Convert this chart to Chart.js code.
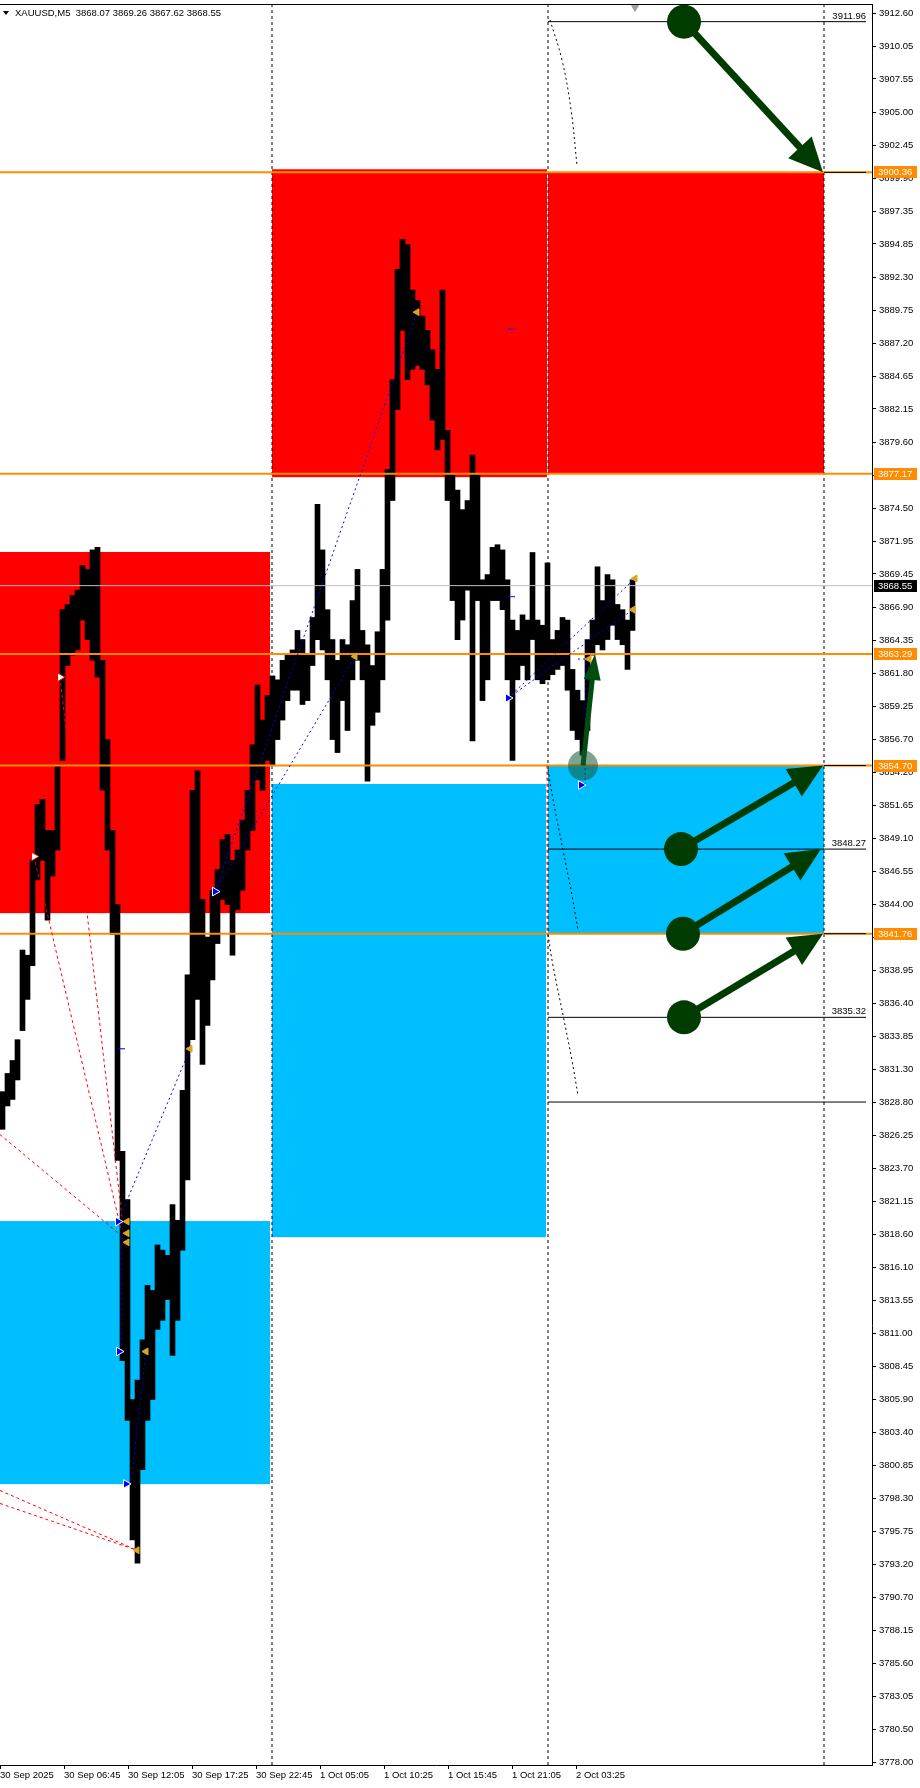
<!DOCTYPE html>
<html>
<head>
<meta charset="utf-8">
<script src="https://cdn.jsdelivr.net/npm/chart.js@4.4.1/dist/chart.umd.min.js"></script>
<style>
html, body { margin: 0; padding: 0; background: #fff; }
#wrap { width: 920px; height: 1788px; }
</style>
</head>
<body>
<div id="wrap"><canvas id="xau" width="920" height="1788"></canvas></div>
<script>
// XAUUSD M5 - price grouped in columns of 5 bars
const symbolTitle = "XAUUSD,M5  3868.07 3869.26 3867.62 3868.55";
const barStep = 5;
const barHigh = [
  3829.6, 3831.0, 3832.0, 3833.6, 3840.5, 3840.1, 3847.4, 3851.7, 3852.1, 3849.7,
  3849.7, 3854.7, 3866.7, 3867.1, 3867.8, 3868.2, 3870.1, 3869.8, 3871.3, 3871.5,
  3862.8, 3856.7, 3849.7, 3844.0, 3825.0, 3821.3, 3805.9, 3807.4, 3810.5, 3814.7,
  3814.3, 3817.8, 3817.4, 3817.0, 3820.9, 3819.7, 3829.7, 3838.6, 3852.8, 3854.3,
  3844.4, 3841.5, 3845.1, 3846.7, 3849.0, 3849.4, 3847.4, 3848.2, 3850.5, 3852.8,
  3856.3, 3860.9, 3858.2, 3860.1, 3861.6, 3861.3, 3862.8, 3863.3, 3863.6, 3865.1,
  3864.4, 3863.2, 3866.1, 3874.8, 3871.3, 3866.7, 3864.4, 3862.8, 3864.4, 3864.0,
  3867.4, 3869.8, 3865.1, 3864.0, 3862.4, 3865.0, 3869.8, 3877.5, 3884.4, 3892.9,
  3895.2, 3894.8, 3891.3, 3890.5, 3889.3, 3888.2, 3886.7, 3885.2, 3891.3, 3880.5,
  3877.1, 3875.9, 3874.4, 3875.1, 3878.6, 3877.1, 3869.0, 3869.4, 3871.5, 3871.7,
  3871.3, 3869.0, 3865.9, 3865.1, 3866.3, 3865.9, 3871.1, 3865.9, 3865.5, 3870.3,
  3864.4, 3865.1, 3866.1, 3865.9, 3862.1, 3860.5, 3859.7, 3864.4, 3865.9, 3870.0,
  3867.4, 3869.4, 3869.0, 3867.1, 3866.7, 3865.9, 3869.0
];
const barLow = [
  3826.7, 3828.5, 3829.0, 3830.5, 3834.3, 3836.7, 3839.3, 3845.9, 3847.4, 3842.8,
  3846.2, 3848.2, 3855.1, 3862.4, 3863.2, 3863.6, 3865.9, 3864.4, 3862.8, 3861.5,
  3852.8, 3848.2, 3841.7, 3824.3, 3808.9, 3804.3, 3795.1, 3793.3, 3800.5, 3804.3,
  3805.9, 3811.3, 3812.0, 3813.6, 3809.3, 3812.0, 3817.4, 3822.8, 3833.6, 3836.7,
  3831.7, 3834.7, 3838.2, 3841.0, 3844.4, 3844.0, 3840.1, 3843.6, 3845.1, 3848.2,
  3849.7, 3853.6, 3852.8, 3855.1, 3854.7, 3856.7, 3858.2, 3859.7, 3860.5, 3860.5,
  3859.4, 3859.7, 3862.4, 3864.4, 3863.6, 3861.3, 3856.7, 3855.7, 3859.7, 3857.4,
  3861.3, 3862.8, 3861.3, 3853.5, 3857.8, 3858.8, 3861.3, 3865.9, 3875.1, 3882.1,
  3888.2, 3884.4, 3885.2, 3885.5, 3885.2, 3884.0, 3881.3, 3879.0, 3879.8, 3875.1,
  3867.4, 3864.4, 3865.9, 3868.2, 3856.6, 3867.4, 3859.7, 3861.3, 3867.4, 3867.4,
  3866.7, 3861.3, 3855.1, 3861.3, 3862.4, 3861.3, 3864.4, 3861.3, 3861.0, 3861.3,
  3861.7, 3862.1, 3862.4, 3860.5, 3857.4, 3856.7, 3855.5, 3857.4, 3863.2, 3864.0,
  3863.6, 3864.4, 3865.5, 3864.4, 3864.0, 3862.1, 3865.1
];

const xTickPos = [0, 64, 128, 192, 256, 320, 384, 448, 512, 576];
const xTickLabels = ["30 Sep 2025", "30 Sep 06:45", "30 Sep 12:05", "30 Sep 17:25", "30 Sep 22:45",
  "1 Oct 05:05", "1 Oct 10:25", "1 Oct 15:45", "1 Oct 21:05", "2 Oct 03:25"];
const yTicks = [
  3912.60, 3910.05, 3907.55, 3905.00, 3902.45, 3899.90, 3897.35, 3894.85, 3892.30, 3889.75,
  3887.20, 3884.65, 3882.15, 3879.60, 3877.05, 3874.50, 3871.95, 3869.45, 3866.90, 3864.35,
  3861.80, 3859.25, 3856.70, 3854.20, 3851.65, 3849.10, 3846.55, 3844.00, 3841.45, 3838.95,
  3836.40, 3833.85, 3831.30, 3828.80, 3826.25, 3823.70, 3821.15, 3818.60, 3816.10, 3813.55,
  3811.00, 3808.45, 3805.90, 3803.40, 3800.85, 3798.30, 3795.75, 3793.20, 3790.70, 3788.15,
  3785.60, 3783.05, 3780.50, 3778.00
];
const priceMin = 3777.77;
const priceMax = 3913.32;
const barsShown = 872;

const daySeparators = [272, 548, 824];
const orangeLevels = [3900.36, 3877.17, 3863.29, 3854.70, 3841.76];
const lastPrice = 3868.55;
const targetLevels = [3911.96, 3848.27, 3835.32, 3828.80];
const targetLabels = ["3911.96", "3848.27", "3835.32", ""];
const targetFrom = 548, targetTo = 866;
const tailLevels = [3900.36, 3854.70, 3841.76];
const tailFrom = 824;

// zones: [fromBar, toBar, upperPrice, lowerPrice]
const redZones = [[0, 270, 3871.14, 3843.34], [272, 547, 3900.60, 3876.90], [548, 824, 3900.36, 3877.17]];
const blueZones = [[0, 270, 3819.64, 3799.39], [272, 546, 3853.28, 3818.40], [548, 824, 3854.70, 3841.76]];

// links: [bar0, price0, bar1, price1]
const blueLinks = [
  [121, 3820.1, 190, 3832.9], [122, 3819.5, 122, 3809.7], [131, 3799.4, 146, 3809.6],
  [215, 3845.0, 417, 3889.6], [215, 3845.0, 355, 3863.1],
  [508, 3859.9, 635, 3869.1], [508, 3859.9, 633, 3866.7],
  [585, 3853.2, 586, 3862.9], [578, 3862.9, 588, 3862.9]
];
const blueDashes = [[508, 3888.3, 515, 3888.3], [508, 3867.7, 515, 3867.7], [118, 3832.9, 125, 3832.9]];
const redLinks = [
  [0, 3826.3, 120, 3818.6], [34, 3847.7, 121, 3819.0], [60, 3861.5, 122, 3819.9],
  [0, 3798.9, 137, 3794.3], [0, 3797.9, 137, 3794.3], [547, 3854.70, 547, 3841.76]
];
const arcTop = [[550, 3912.1], [562, 3909.0], [571, 3905.2], [577, 3900.9]];
const arcMid = [[548, 3854.4], [553, 3852.1], [563, 3848.2], [572, 3844.7], [578, 3842.0]];
const arcLow = [[548, 3841.7], [553, 3839.3], [563, 3835.5], [572, 3832.0], [578, 3829.3]];

const goldMarks = [[127, 3819.6], [127, 3818.7], [127, 3818.0], [146, 3809.6], [137, 3794.3],
  [190, 3832.9], [417, 3889.6], [355, 3863.1], [589, 3862.9], [635, 3869.1], [633, 3866.7]];
const blueMarks = [[118, 3819.6], [119, 3809.6], [126, 3799.4], [215, 3845.0], [508, 3859.9], [581, 3853.2]];
const whiteMarks = [[60, 3861.5], [34, 3847.7]];
const shiftMark = [[635, 3913.05]];

// green arrows: [bar0, price0, bar1, price1]
const greenArrows = [
  [684, 3911.96, 823, 3900.36], [681, 3848.27, 823, 3854.70],
  [683, 3841.76, 821, 3848.27], [684, 3835.32, 823, 3841.76]
];
const smallArrow = [583, 3854.70, 595, 3863.29];

const FONT = '"Liberation Sans", Arial, sans-serif';
const FSIZE = 9.5;

function hline(v, x0, x1, color, width, dash, order) {
  return { type: 'line', data: [{ x: x0, y: v }, { x: x1, y: v }], borderColor: color,
    borderWidth: width, borderDash: dash || [], pointRadius: 0, fill: false, order: order };
}
function link(l, color, dash, order) {
  return { type: 'line', data: [{ x: l[0], y: l[1] }, { x: l[2], y: l[3] }], borderColor: color,
    borderWidth: 1, borderDash: dash, pointRadius: 0, fill: false, order: order };
}
function marks(pts, style, rot, fill, stroke, r) {
  return { type: 'line', showLine: false, data: pts.map(p => ({ x: p[0], y: p[1] })),
    pointStyle: style, rotation: rot, pointRadius: r, pointBackgroundColor: fill,
    pointBorderColor: stroke, pointBorderWidth: 1, order: 1 };
}

const datasets = [];
datasets.push({
  type: 'bar',
  data: barHigh.map((h, i) => ({ x: i * barStep + barStep / 2, y: [barLow[i], h] })),
  backgroundColor: '#000', borderWidth: 0, barThickness: 5, grouped: false, order: 5
});
daySeparators.forEach(x => datasets.push({ type: 'line', data: [{ x: x, y: priceMin }, { x: x, y: priceMax }],
  borderColor: '#000', borderWidth: 1, borderDash: [3, 3], pointRadius: 0, order: 6 }));
orangeLevels.forEach(v => datasets.push(hline(v, 0, barsShown, '#ff8c00', 2, null, 3)));
datasets.push(hline(lastPrice, 0, barsShown, '#c0c0c0', 1, null, 3));
targetLevels.forEach(v => datasets.push(hline(v, targetFrom, targetTo, '#000', 1, null, 2)));
tailLevels.forEach(v => datasets.push(hline(v, tailFrom, targetTo, '#000', 1, null, 2)));
blueLinks.forEach(l => datasets.push(link(l, '#0000ff', [2, 3], 2)));
blueDashes.forEach(l => datasets.push(link(l, '#0000ff', [], 2)));
redLinks.forEach(l => datasets.push(link(l, '#ff0000', [3, 3], 2)));
[arcTop, arcMid, arcLow].forEach(a => datasets.push({ type: 'line', data: a.map(p => ({ x: p[0], y: p[1] })),
  borderColor: '#000', borderWidth: 1, borderDash: [2, 3], pointRadius: 0, tension: 0.4, order: 2 }));
datasets.push(marks(goldMarks, 'triangle', 270, '#daa520', '#daa520', 4));
datasets.push(marks(blueMarks, 'triangle', 90, '#0000ff', '#ffffff', 5));
datasets.push(marks(whiteMarks, 'triangle', 90, '#ffffff', '#ff0000', 5));
datasets.push(marks(shiftMark, 'triangle', 180, '#a0a0a0', '#a0a0a0', 4));

function fillZones(chart) {
  const c = chart.ctx, a = chart.chartArea, sx = chart.scales.x, sy = chart.scales.y;
  c.save();
  c.beginPath(); c.rect(a.left, a.top, a.right - a.left, a.bottom - a.top); c.clip();
  const draw = (z, col) => {
    const x0 = sx.getPixelForValue(z[0]), x1 = sx.getPixelForValue(z[1]);
    const y0 = sy.getPixelForValue(z[2]), y1 = sy.getPixelForValue(z[3]);
    c.fillStyle = col; c.fillRect(x0, y0, x1 - x0, y1 - y0);
  };
  redZones.forEach(z => draw(z, '#ff0000'));
  blueZones.forEach(z => draw(z, '#00bfff'));
  c.restore();
}

function arrow(c, x0, y0, x1, y1, shaft, head, headW, color) {
  const ang = Math.atan2(y1 - y0, x1 - x0), len = Math.hypot(x1 - x0, y1 - y0);
  c.save(); c.translate(x0, y0); c.rotate(ang); c.fillStyle = color;
  c.fillRect(0, -shaft / 2, len - head + 1, shaft);
  c.beginPath(); c.moveTo(len, 0); c.lineTo(len - head, -headW / 2); c.lineTo(len - head, headW / 2);
  c.closePath(); c.fill(); c.restore();
}

const overlayPlugin = {
  id: 'overlay',
  beforeDatasetsDraw(chart) { fillZones(chart); },
  afterDatasetsDraw(chart) {
    const c = chart.ctx, sx = chart.scales.x, sy = chart.scales.y;
    // level captions
    c.save();
    c.font = FSIZE + 'px ' + FONT; c.fillStyle = '#000'; c.textAlign = 'right'; c.textBaseline = 'bottom';
    targetLevels.forEach((v, i) => { if (targetLabels[i]) c.fillText(targetLabels[i], sx.getPixelForValue(targetTo), sy.getPixelForValue(v) - 1); });
    c.restore();
    // green arrows
    const green = '#003c00';
    greenArrows.forEach(g => {
      const x0 = sx.getPixelForValue(g[0]), y0 = sy.getPixelForValue(g[1]);
      const x1 = sx.getPixelForValue(g[2]), y1 = sy.getPixelForValue(g[3]);
      c.fillStyle = green; c.beginPath(); c.arc(x0, y0, 17, 0, Math.PI * 2); c.fill();
      arrow(c, x0, y0, x1, y1, 7, 34, 32, green);
    });
    const s = smallArrow;
    const sx0 = sx.getPixelForValue(s[0]), sy0 = sy.getPixelForValue(s[1]);
    arrow(c, sx0, sy0, sx.getPixelForValue(s[2]), sy.getPixelForValue(s[3]), 5, 26, 17, '#004d10');
    c.fillStyle = 'rgba(20,90,55,0.55)'; c.beginPath(); c.arc(sx0, sy0, 15, 0, Math.PI * 2); c.fill();
  },
  afterDraw(chart) {
    const c = chart.ctx, a = chart.chartArea, sy = chart.scales.y;
    c.save();
    c.strokeStyle = '#000'; c.lineWidth = 1;
    c.beginPath(); c.moveTo(a.left, a.top + 0.5); c.lineTo(a.right, a.top + 0.5); c.stroke();
    // axis price tags
    c.font = FSIZE + 'px ' + FONT; c.textBaseline = 'middle'; c.textAlign = 'left';
    const tag = (v, bg) => {
      const y = Math.round(sy.getPixelForValue(v));
      c.fillStyle = bg; c.fillRect(a.right + 2, y - 6, 43, 12);
      c.fillStyle = '#fff'; c.fillText(v.toFixed(2), a.right + 6, y + 0.5);
    };
    orangeLevels.forEach(v => tag(v, '#ff8c00'));
    tag(lastPrice, '#000');
    // title
    c.fillStyle = '#000';
    c.beginPath(); c.moveTo(3, 11); c.lineTo(9, 11); c.lineTo(6, 15); c.closePath(); c.fill();
    c.fillText(symbolTitle, 15, 13.5);
    c.restore();
  }
};

new Chart(document.getElementById('xau'), {
  type: 'bar',
  data: { datasets: datasets },
  options: {
    responsive: false,
    animation: false,
    events: [],
    layout: { autoPadding: false, padding: { top: 4, left: 0, right: 0, bottom: 0 } },
    plugins: { legend: { display: false }, tooltip: { enabled: false } },
    scales: {
      x: {
        type: 'linear', min: 0, max: barsShown, offset: false,
        grid: { drawOnChartArea: false, drawTicks: true, tickLength: 4, color: '#000', offset: false },
        border: { display: true, color: '#000' },
        ticks: { autoSkip: false, maxRotation: 0, align: 'start', padding: 1, color: '#000',
          font: { family: FONT, size: FSIZE }, callback: (v, i) => xTickLabels[i] },
        afterBuildTicks: s => { s.ticks = xTickPos.map(v => ({ value: v })); },
        afterFit: s => { s.height = 23; s.paddingLeft = 0; s.paddingRight = 0; }
      },
      y: {
        position: 'right', min: priceMin, max: priceMax,
        grid: { drawOnChartArea: false, drawTicks: true, tickLength: 4, color: '#000' },
        border: { display: true, color: '#000' },
        ticks: { autoSkip: false, padding: 3, color: '#000', font: { family: FONT, size: FSIZE },
          callback: v => Number(v).toFixed(2) },
        afterBuildTicks: s => { s.ticks = yTicks.map(v => ({ value: v })); },
        afterFit: s => { s.width = 48; s.paddingTop = 0; s.paddingBottom = 0; }
      }
    }
  },
  plugins: [overlayPlugin]
});
</script>
</body>
</html>
